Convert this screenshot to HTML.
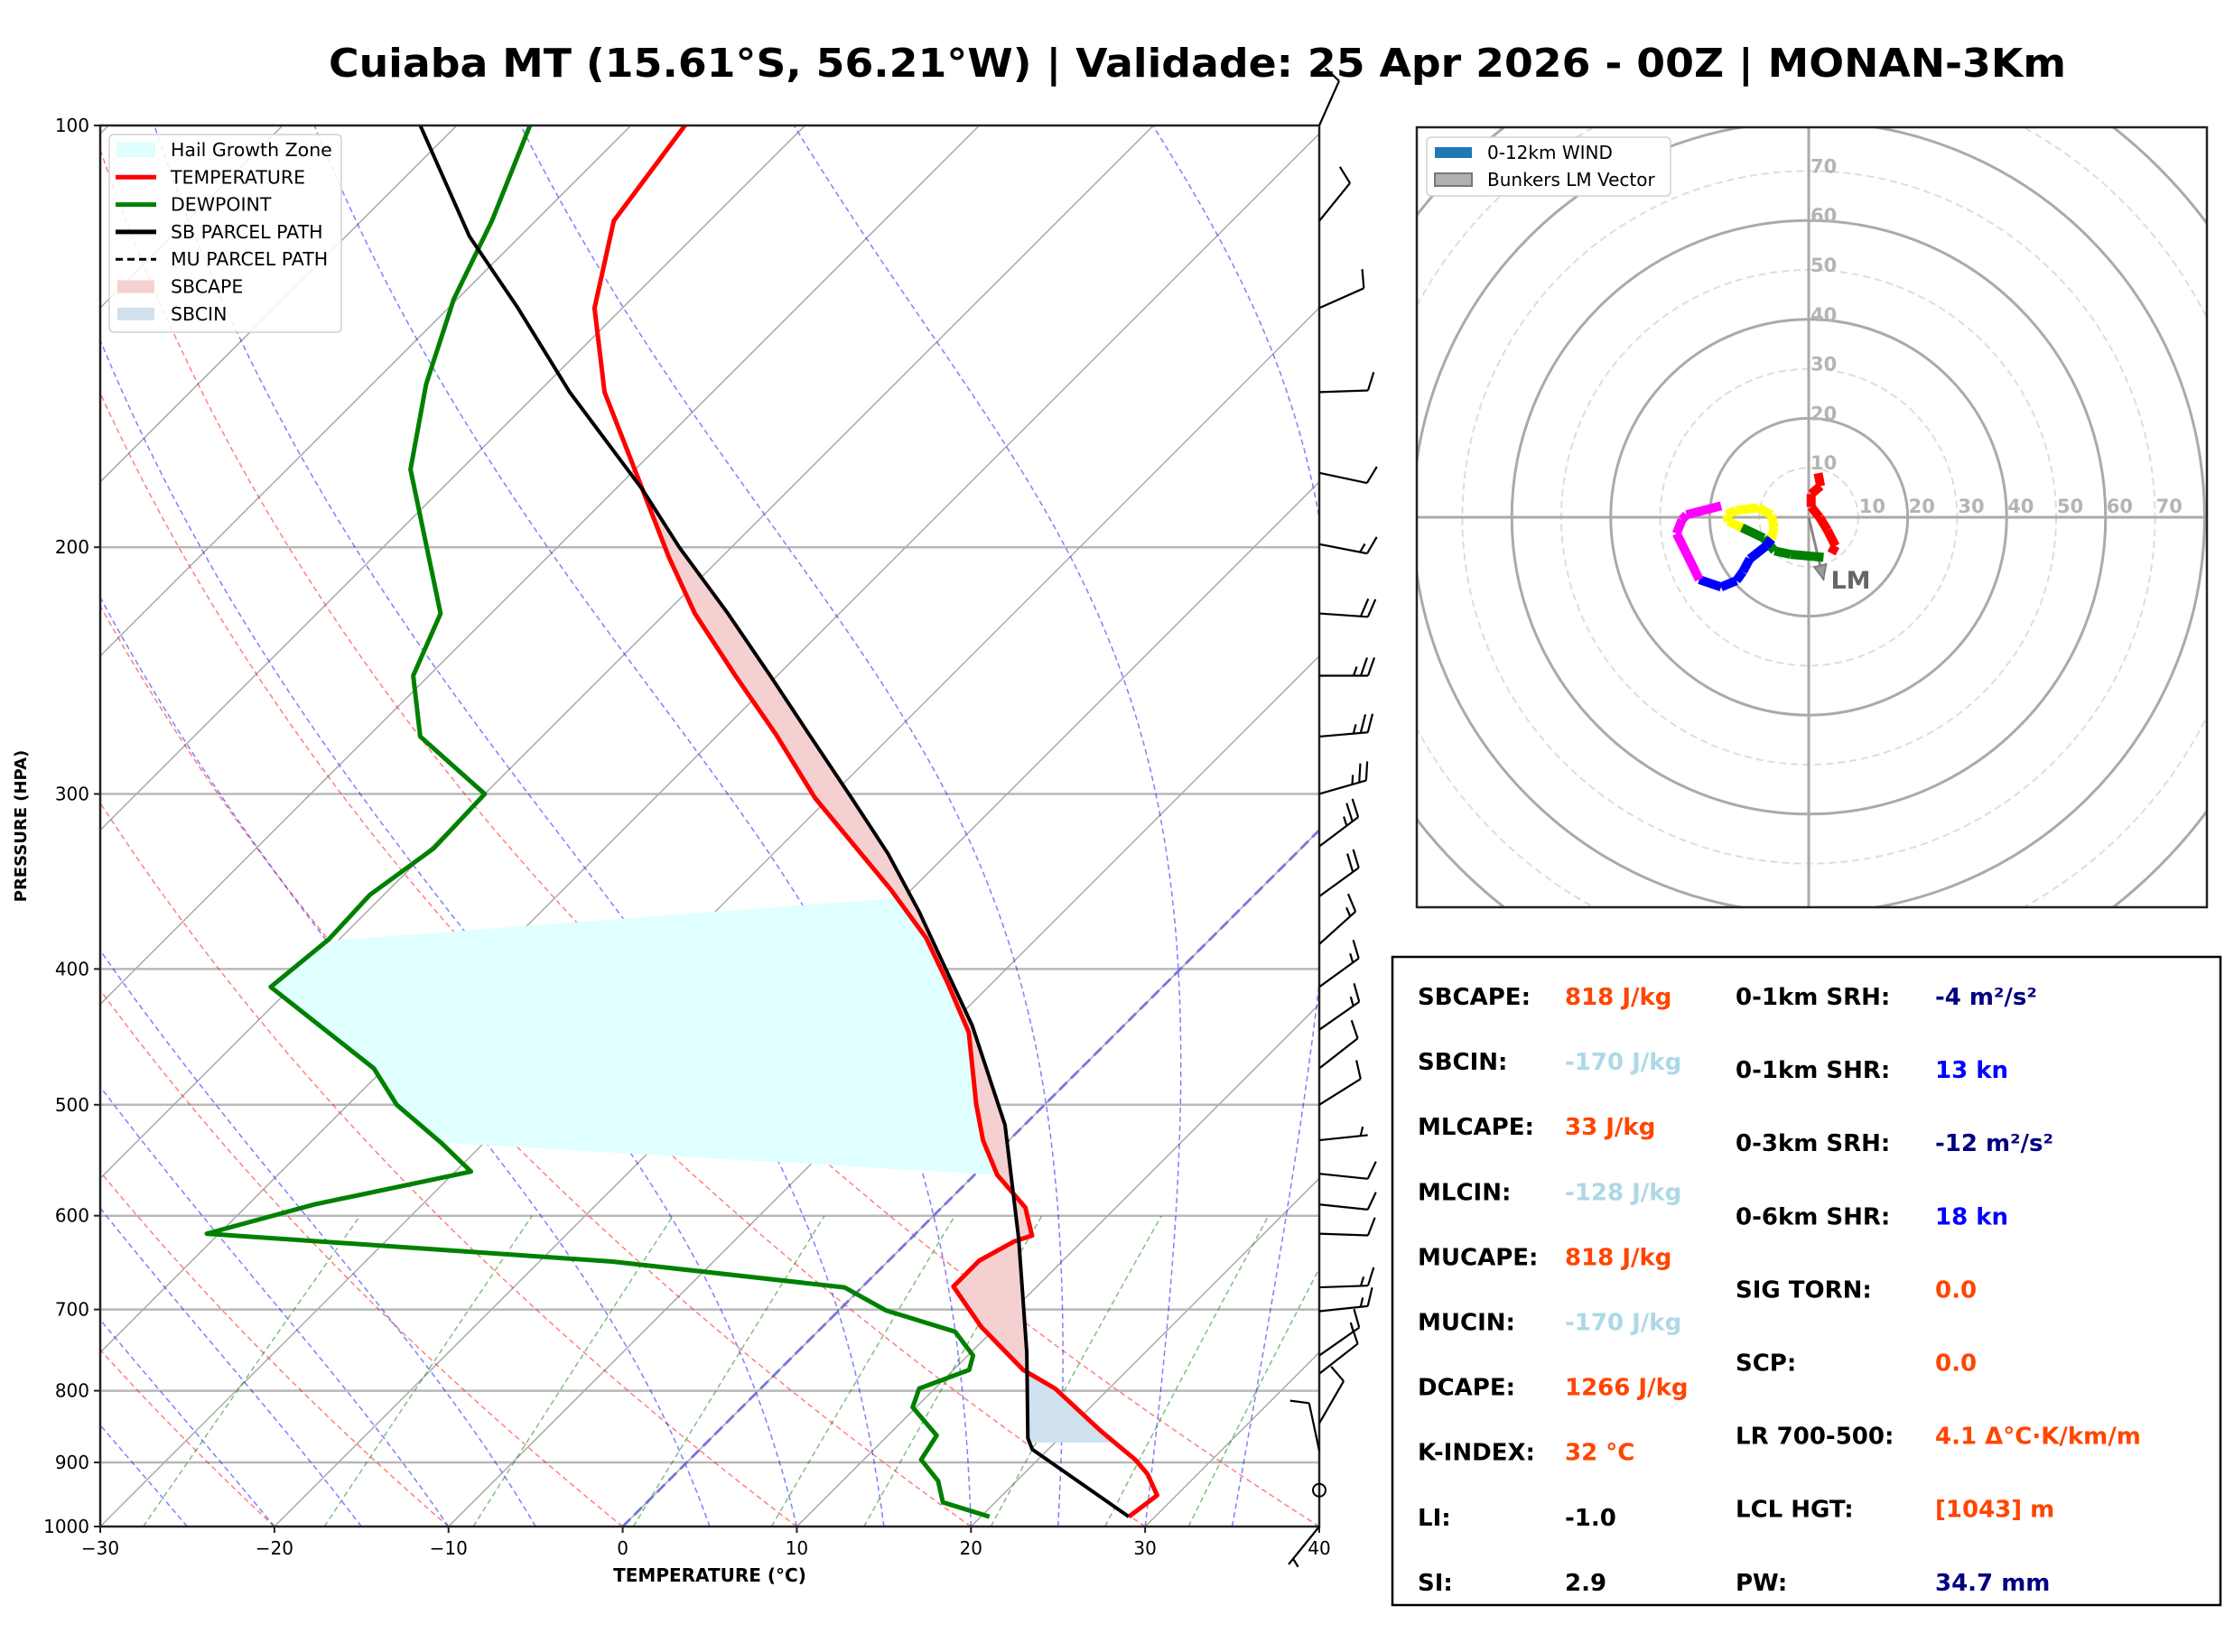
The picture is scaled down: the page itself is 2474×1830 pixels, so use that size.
<!DOCTYPE html>
<html><head><meta charset="utf-8">
<style>
html,body{margin:0;padding:0;background:#fff;}
svg{display:block;font-family:"DejaVu Sans","Liberation Sans",sans-serif;}
</style></head>
<body>
<svg id="fig" width="2474" height="1830" viewBox="0 0 2474 1830" xmlns="http://www.w3.org/2000/svg">
<rect width="2474" height="1830" fill="#fff"/>
<text x="364" y="85" font-size="44" font-weight="bold" textLength="1924" lengthAdjust="spacingAndGlyphs">Cuiaba MT (15.61°S, 56.21°W) | Validade: 25 Apr 2026 - 00Z | MONAN-3Km</text>
<defs>
<clipPath id="skewClip"><rect x="111" y="139" width="1350" height="1552"/></clipPath>
<clipPath id="hodoClip"><rect x="1569" y="141" width="875" height="864"/></clipPath>
</defs>
<g id="skew"></g>
<g id="barbs"></g>
<g id="hodo"></g>
<g id="table"></g>
</svg>
<script>
// ---------- Data ----------
const tempP=[984,950,917,896,855,797,773,720,674,646,626,620,592,561,530,499,444,409,380,351,302,272,247,223,203,182,155,135,117,100];
const tempT=[28.5,28.9,27.1,25.6,22.0,16.9,14.0,9.1,5.2,5.2,6.1,6.8,4.8,1.3,-1.5,-4.0,-8.5,-12.6,-16.4,-21.2,-30.8,-36.7,-42.4,-48.3,-53.1,-58.4,-66.2,-71.6,-75.5,-76.9];
const dewP=[984,961,928,896,861,822,797,773,755,726,701,675,647,618,589,558,532,500,471,412,381,354,328,300,273,247,223,176,153,133,117,100];
const dewT=[20.5,17.0,15.5,13.3,12.8,9.8,9.1,10.9,10.3,7.9,2.7,-1.0,-15.8,-40.7,-36.2,-29.1,-32.5,-37.2,-40.6,-51.2,-50.6,-50.8,-49.8,-50.0,-57.0,-60.9,-62.9,-72.9,-76.9,-80.2,-82.5,-85.8];
const parcelP=[984,881,865,751,623,517,439,399,364,331,302,272,247,223,200,182,155,135,120,100];
const parcelT=[28.5,19.1,18.2,13.2,6.2,-1.1,-8.7,-13.6,-18.3,-23.4,-28.7,-34.8,-40.4,-46.4,-53.0,-58.4,-68.2,-76.0,-82.9,-92.1];
const hailTopLeft=[383,-51.7];
const hailRange=[356,561];
const hailBottomLeft=[532,-32.5];
const capeRange=[773,182];
const cinRange=[871,773];
const pTicks=[100,200,300,400,500,600,700,800,900,1000];
const tTicks=[-30,-20,-10,0,10,20,30,40];
const mixRatios=[0.4,1,2,4,7,10,16,24,32];
const dryStarts=[-30,-20,-10,0,10,20,30,40];
const moistStarts=[-30,-25,-20,-15,-10,-5,5,10,15,20,25,30,35];
const barbP=[100,117,135,155,177,199,223,247,273,300,327,355,384,412,442,471,500,530,560,589,618,675,702,755,778,844,883,942,1000];
const barbDir=[24,39,66,88,102,101,94,90,85,74,53,54,48,54,55,52,58,84,96,96,92,88,84,55,52,30,348,0,219];
const barbSpd=[10,10,10,10,10,15,20,25,25,25,25,20,15,15,15,10,10,5,10,10,10,15,15,15,10,10,10,0,5];
const hodoSegColors=['red','green','yellow','blue','magenta'];
const hodoU=[[1.9,2.4,0.5,0.5,2.2,3.8,5.4,4.6],[3.0,-3.6,-6.9,-9.1,-13.5],[-13.5,-16.3,-16.6,-14.6,-10.2,-7.5,-7.0,-7.5],[-7.5,-8.6,-11.9,-13.3,-14.6,-17.7,-22.1],[-22.1,-24.7,-26.7,-25.6,-24.7,-17.7]];
const hodoV=[[8.9,6.3,4.7,2.1,0,-2.6,-5.8,-7.3],[-8.1,-7.5,-6.8,-4.2,-2.1],[-2.1,-0.8,0.5,1.4,1.9,0.5,-2.1,-4.4],[-4.4,-5.8,-8.4,-11.0,-12.8,-14.1,-12.6],[-12.6,-7.3,-3.3,-0.5,0.5,2.3]];
const lmU=3.0, lmV=-12.6;
const ringLabels=[10,20,30,40,50,60,70];

// ---------- helpers ----------
const NS='http://www.w3.org/2000/svg';
function el(tag,attrs,parent){const e=document.createElementNS(NS,tag);for(const k in attrs)e.setAttribute(k,attrs[k]);parent.appendChild(e);return e;}
const X0=111,X1=1461,Y0=139,Y1=1691,PXT=(X1-X0)/70;
function yP(p){return Y0+(Math.log10(p)-2)*(Y1-Y0);}
function xT(T,p){return X0+(T+30)*PXT+(Y1-yP(p));}
function pts(P,T){return P.map((p,i)=>xT(T[i],p).toFixed(1)+','+yP(p).toFixed(1)).join(' ');}
function interp(P,T,p){for(let i=0;i<P.length-1;i++){const a=P[i],b=P[i+1];if((p<=a&&p>=b)){const f=(Math.log(p)-Math.log(a))/(Math.log(b)-Math.log(a));return T[i]+f*(T[i+1]-T[i]);}}return T[P.length-1];}
function levels(lo,hi,arrs){const ps=[lo];arrs.forEach(A=>A.forEach(p=>{if(p<lo&&p>hi)ps.push(p);}));ps.push(hi);ps.sort((m,n)=>n-m);return ps;}
function fillBetween(lo,hi){
  const a=[],b=[];
  levels(lo,hi,[tempP,parcelP]).forEach(p=>{a.push(xT(interp(parcelP,parcelT,p),p)+','+yP(p));b.push(xT(interp(tempP,tempT,p),p)+','+yP(p));});
  return a.concat(b.reverse()).join(' ');
}

// ---------- Skew-T ----------
const sk=document.getElementById('skew');
const bg=el('g',{'clip-path':'url(#skewClip)'},sk);


pTicks.slice(1,-1).forEach(p=>{const l=el('line',{x1:X0,x2:X1,y1:yP(p),y2:yP(p),stroke:'#b8b8b8','stroke-width':2.5},bg);});
for(let T=-130;T<=40;T+=10){const l=el('line',{x1:xT(T,1000),y1:Y1,x2:xT(T,100),y2:Y0,stroke:'#aaa','stroke-width':1.5},bg);}
const plev=[];for(let p=1000;p>=100;p-=10)plev.push(p);
dryStarts.forEach(T0=>{const th=T0+273.15;const d=plev.map(p=>xT(th*Math.pow(p/1000,0.2857)-273.15,p).toFixed(1)+','+yP(p).toFixed(1)).join(' ');
 const l=el('polyline',{points:d,fill:'none',stroke:'#ff0000','stroke-opacity':0.5,'stroke-width':1.5,'stroke-dasharray':'6,4'},bg);});
function es(T){return 6.112*Math.exp(17.67*T/(T+243.5));}
moistStarts.forEach(T0=>{let T=T0+273.15;const out=[];for(let p=1000;p>=100;p-=5){out.push(xT(T-273.15,p).toFixed(1)+','+yP(p).toFixed(1));
  const rs=0.622*es(T-273.15)/(p-es(T-273.15));const Lv=2.501e6,Rd=287,cp=1005;
  const dTdp=(Rd*T+Lv*rs)/(p*(cp+Lv*Lv*rs*0.622/(Rd*T*T)));T-=dTdp*5;}
 const l=el('polyline',{points:out.join(' '),fill:'none',stroke:'#0000ff','stroke-opacity':0.5,'stroke-width':1.5,'stroke-dasharray':'6,4'},bg);});
mixRatios.forEach(w=>{const out=[];for(let p=1000;p>=600;p-=20){const e=w*p/(622+w);const L=Math.log(e/6.112);const Td=243.5*L/(17.67-L);out.push(xT(Td,p).toFixed(1)+','+yP(p).toFixed(1));}
 const l=el('polyline',{points:out.join(' '),fill:'none',stroke:'#008000','stroke-opacity':0.5,'stroke-width':1.5,'stroke-dasharray':'6,4'},bg);});
const z=el('line',{x1:xT(0,1000),y1:Y1,x2:xT(0,100),y2:Y0,stroke:'#6060e0','stroke-opacity':0.75,'stroke-width':3,'stroke-dasharray':'12,6'},bg);

{const hp=[];hp.push(xT(hailTopLeft[1],hailTopLeft[0])+','+yP(hailTopLeft[0]));
 levels(hailRange[1],hailRange[0],[tempP]).reverse().forEach(p=>hp.push(xT(interp(tempP,tempT,p),p)+','+yP(p)));
 levels(hailBottomLeft[0],hailTopLeft[0],[dewP]).forEach(p=>hp.push(xT(interp(dewP,dewT,p),p)+','+yP(p)));
 const hz=el('polygon',{points:hp.join(' '),fill:'#e0ffff'},bg);}
const cf=el('polygon',{points:fillBetween(capeRange[0],capeRange[1]),fill:'#f5d0d0'},bg);
const cn=el('polygon',{points:fillBetween(cinRange[0],cinRange[1]),fill:'#cfe0ee'},bg);
const tl=el('polyline',{points:pts(tempP,tempT),fill:'none',stroke:'#ff0000','stroke-width':5,'stroke-linejoin':'round'},bg);
const dl=el('polyline',{points:pts(dewP,dewT),fill:'none',stroke:'#008000','stroke-width':5,'stroke-linejoin':'round'},bg);
const pl=el('polyline',{points:pts(parcelP,parcelT),fill:'none',stroke:'#000','stroke-width':4,'stroke-linejoin':'round'},bg);
const fr=el('rect',{x:X0,y:Y0,width:X1-X0,height:Y1-Y0,fill:'none',stroke:'#222','stroke-width':2.5},sk);
pTicks.forEach(p=>{el('line',{x1:X0-7,x2:X0,y1:yP(p),y2:yP(p),stroke:'#222','stroke-width':2},sk);
 const t=el('text',{x:X0-12,y:yP(p)+7,'font-size':20,'text-anchor':'end'},sk);t.textContent=p;});
tTicks.forEach(T=>{const x=X0+(T+30)*PXT;el('line',{x1:x,x2:x,y1:Y1,y2:Y1+7,stroke:'#222','stroke-width':2},sk);
 const t=el('text',{x:x,y:Y1+31,'font-size':20,'text-anchor':'middle'},sk);t.textContent=(T<0?'\u2212':'')+Math.abs(T);});
let t=el('text',{x:786,y:1752,'font-size':20,'font-weight':'bold','text-anchor':'middle'},sk);t.textContent='TEMPERATURE (°C)';
t=el('text',{x:29,y:915,'font-size':18,'font-weight':'bold','text-anchor':'middle',transform:'rotate(-90 29 915)'},sk);t.textContent='PRESSURE (HPA)';
const lg=el('g',{},sk);
el('rect',{x:121,y:149,width:257,height:219,rx:5,fill:'#fff','fill-opacity':0.85,stroke:'#d0d0d0','stroke-width':1.5},lg);
const legItems=[['Hail Growth Zone','patch','#e0ffff'],['TEMPERATURE','line','#ff0000'],['DEWPOINT','line','#008000'],['SB PARCEL PATH','line','#000'],['MU PARCEL PATH','dash','#000'],['SBCAPE','patch','#f5d0d0'],['SBCIN','patch','#cfe0ee']];
legItems.forEach((it,i)=>{const y=166+i*30.3;
 if(it[1]==='patch')el('rect',{x:130,y:y-7,width:41,height:14,fill:it[2],stroke:it[0]==='Hail Growth Zone'?'#c0ffff':'none'},lg);
 else el('line',{x1:128,x2:173,y1:y,y2:y,stroke:it[2],'stroke-width':it[1]==='line'?5:3,'stroke-dasharray':it[1]==='dash'?'8,5':'none'},lg);
 const tx=el('text',{x:189,y:y+7,'font-size':20.5},lg);tx.textContent=it[0];});

// ---------- Barbs ----------
const bb=document.getElementById('barbs');
barbP.forEach((p,i)=>{const x=X1,y=yP(p);const s=barbSpd[i];
 if(s===0){const c=el('ellipse',{cx:x,cy:y,rx:7,ry:7,fill:'none',stroke:'#000','stroke-width':2},bb);return;}
 const a=barbDir[i]*Math.PI/180;const dx=Math.sin(a),dy=-Math.cos(a);const L=54;
 const tx=x+dx*L,ty=y+dy*L;const px=dy,py=-dx;
 const g=el('g',{stroke:'#000','stroke-width':2.2,fill:'none'},bb);
 el('line',{x1:x,y1:y,x2:tx,y2:ty},g);
 let full=Math.floor(s/10),half=(s%10)>=5?1:0;let k=0;
 for(let j=0;j<full;j++){const bx=tx-dx*k*8,by=ty-dy*k*8;el('line',{x1:bx,y1:by,x2:bx+px*20+dx*7,y2:by+py*20+dy*7},g);k++;}
 if(half){if(full===0)k=1;const bx=tx-dx*k*8,by=ty-dy*k*8;el('line',{x1:bx,y1:by,x2:bx+px*10+dx*3.5,y2:by+py*10+dy*3.5},g);}
});

// ---------- Hodograph ----------
const hd=document.getElementById('hodo');
const HX=2003,HY=573,K=5.48;
const hb=el('g',{'clip-path':'url(#hodoClip)'},hd);
[10,30,50,70,90].forEach(r=>{const c=el('circle',{cx:HX,cy:HY,r:r*K,fill:'none',stroke:'#ddd','stroke-width':2,'stroke-dasharray':'8,5'},hb);});
[20,40,60,80,100].forEach(r=>{const c=el('circle',{cx:HX,cy:HY,r:r*K,fill:'none',stroke:'#aaa','stroke-width':3},hb);});
el('line',{x1:1569,x2:2444,y1:HY,y2:HY,stroke:'#aaa','stroke-width':3},hb);
el('line',{x1:HX,x2:HX,y1:141,y2:1005,stroke:'#aaa','stroke-width':3},hb);
ringLabels.forEach(r=>{let a=el('text',{x:HX+r*K+1,y:HY-5,'font-size':21,'font-weight':'bold',fill:'#b4b4b4'},hb);a.textContent=r;
 a=el('text',{x:HX+2,y:HY-r*K+2,'font-size':21,'font-weight':'bold',fill:'#b4b4b4'},hb);a.textContent=r;});
const lmx=HX+lmU*K,lmy=HY-lmV*K;
const lmg=el('g',{},hb);
el('line',{x1:HX,y1:HY,x2:lmx,y2:lmy,stroke:'#888','stroke-width':3},lmg);
{const ang=Math.atan2(lmy-HY,lmx-HX);const ah=16,aw=7;const bx=lmx-Math.cos(ang)*ah,by=lmy-Math.sin(ang)*ah;
 el('polygon',{points:`${lmx},${lmy} ${bx-Math.sin(ang)*aw},${by+Math.cos(ang)*aw} ${bx+Math.sin(ang)*aw},${by-Math.cos(ang)*aw}`,fill:'#999',stroke:'#777','stroke-width':1.5},lmg);}
t=el('text',{x:lmx+8,y:lmy+10,'font-size':27,'font-weight':'bold',fill:'#666'},hb);t.textContent='LM';
hodoSegColors.forEach((c,s)=>{const U=hodoU[s],V=hodoV[s];for(let i=0;i<U.length-1;i++){
 const l=el('line',{x1:HX+U[i]*K,y1:HY-V[i]*K,x2:HX+U[i+1]*K,y2:HY-V[i+1]*K,stroke:c,'stroke-width':10},hb);
 }});
const hf=el('rect',{x:1569,y:141,width:875,height:864,fill:'none',stroke:'#222','stroke-width':2.5},hd);
const hl=el('g',{},hd);
el('rect',{x:1580,y:152,width:270,height:65,rx:5,fill:'#fff',stroke:'#d0d0d0','stroke-width':1.5},hl);
el('rect',{x:1589,y:163,width:41,height:12,fill:'#1f77b4'},hl);
el('rect',{x:1589,y:192,width:41,height:14,fill:'#b0b0b0',stroke:'#777','stroke-width':2},hl);
t=el('text',{x:1647,y:176,'font-size':20},hl);t.textContent='0-12km WIND';
t=el('text',{x:1647,y:206,'font-size':20},hl);t.textContent='Bunkers LM Vector';

// ---------- Table ----------
const tb=document.getElementById('table');
const bx=el('rect',{x:1542,y:1060,width:917,height:718,fill:'#fff',stroke:'#000','stroke-width':2.5},tb);
const OR='#ff4500',LB='#add8e6',NV='#000080',BL='#0000ff';
const leftRows=[['SBCAPE:','818 J/kg',OR],['SBCIN:','-170 J/kg',LB],['MLCAPE:','33 J/kg',OR],['MLCIN:','-128 J/kg',LB],['MUCAPE:','818 J/kg',OR],['MUCIN:','-170 J/kg',LB],['DCAPE:','1266 J/kg',OR],['K-INDEX:','32 °C',OR],['LI:','-1.0','#000'],['SI:','2.9','#000']];
const rightRows=[['0-1km SRH:','-4 m²/s²',NV],['0-1km SHR:','13 kn',BL],['0-3km SRH:','-12 m²/s²',NV],['0-6km SHR:','18 kn',BL],['SIG TORN:','0.0',OR],['SCP:','0.0',OR],['LR 700-500:','4.1 Δ°C·K/km/m',OR],['LCL HGT:','[1043] m',OR],['PW:','34.7 mm',NV]];
leftRows.forEach((r,i)=>{const y=1113+i*72.1;
 let a=el('text',{x:1570,y:y,'font-size':26,'font-weight':'bold'},tb);a.textContent=r[0];
 a=el('text',{x:1733,y:y,'font-size':26,'font-weight':'bold',fill:r[2]},tb);a.textContent=r[1];});
rightRows.forEach((r,i)=>{const y=1113+i*81.1;
 let a=el('text',{x:1922,y:y,'font-size':26,'font-weight':'bold'},tb);a.textContent=r[0];
 a=el('text',{x:2143,y:y,'font-size':26,'font-weight':'bold',fill:r[2]},tb);a.textContent=r[1];});
</script>
</body></html>
